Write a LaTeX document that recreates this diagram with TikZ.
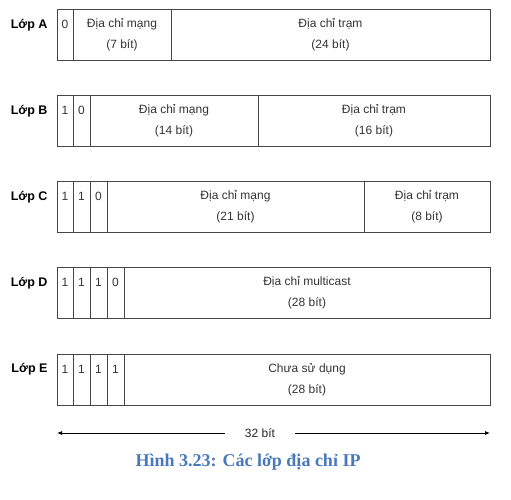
\documentclass[tikz,border=0pt]{standalone}
\usepackage{fontspec}
\setmainfont{Liberation Sans}
\newfontfamily\capfont{Liberation Serif}
\usetikzlibrary{arrows.meta}
\definecolor{capblue}{RGB}{72,120,190}
\definecolor{edge}{RGB}{70,70,70}
\tikzset{
  field/.style={draw=edge, line width=0.9pt, inner sep=0pt, minimum height=51pt, align=center, font=\fontsize{12}{21}\selectfont, text=black!80},
  rowlabel/.style={anchor=east, font=\bfseries\fontsize{12.5}{14}\selectfont},
}
\newcommand{\fld}[5]{% name, x1, x2, ycenter, text
  \pgfmathsetmacro{\fw}{#3-#2}\pgfmathsetmacro{\fx}{(#2+#3)/2}
  \node[field, minimum width=\fw pt] (#1) at (\fx,#4) {#5};}
\begin{document}
\begin{tikzpicture}[x=1pt,y=-1pt]
\useasboundingbox (0,0) rectangle (511,500);
% Row A
\node[rowlabel] (la) at (51,25) {Lớp A};
\fld{a1}{57}{73}{34.5}{0\\{}}
\fld{a2}{73}{171}{34.5}{Địa chỉ mạng\\(7 bít)}
\fld{a3}{171}{490}{34.5}{Địa chỉ trạm\\(24 bít)}
% Row B
\node[rowlabel] (lb) at (51,111) {Lớp B};
\fld{b1}{57}{73}{121}{1\\{}}
\fld{b2}{73}{90}{121}{0\\{}}
\fld{b3}{90}{258}{121}{Địa chỉ mạng\\(14 bít)}
\fld{b4}{258}{490}{121}{Địa chỉ trạm\\(16 bít)}
% Row C
\node[rowlabel] (lc) at (51,197) {Lớp C};
\fld{c1}{57}{73}{207}{1\\{}}
\fld{c2}{73}{90}{207}{1\\{}}
\fld{c3}{90}{107}{207}{0\\{}}
\fld{c4}{107}{364}{207}{Địa chỉ mạng\\(21 bít)}
\fld{c5}{364}{490}{207}{Địa chỉ trạm\\(8 bít)}
% Row D
\node[rowlabel] (ld) at (51,283) {Lớp D};
\fld{d1}{57}{73}{293}{1\\{}}
\fld{d2}{73}{90}{293}{1\\{}}
\fld{d3}{90}{107}{293}{1\\{}}
\fld{d4}{107}{124}{293}{0\\{}}
\fld{d5}{124}{490}{293}{Địa chỉ multicast\\(28 bít)}
% Row E
\node[rowlabel] (le) at (51,369) {Lớp E};
\fld{e1}{57}{73}{379.5}{1\\{}}
\fld{e2}{73}{90}{379.5}{1\\{}}
\fld{e3}{90}{107}{379.5}{1\\{}}
\fld{e4}{107}{124}{379.5}{1\\{}}
\fld{e5}{124}{490}{379.5}{Chưa sử dụng\\(28 bít)}
% 32 bit arrow
\coordinate (al) at (57,433);
\coordinate (ar) at (490,433);
\node[font=\fontsize{12}{14}\selectfont, inner sep=0pt, minimum width=70pt, text=black!85] (bits) at (260,433) {32 bít};
\draw[-{Latex[length=5pt,width=4pt]}, line width=0.8pt] (bits.west) -- (al);
\draw[-{Latex[length=5pt,width=4pt]}, line width=0.8pt] (bits.east) -- (ar);
% caption
\node[font=\capfont\bfseries\fontsize{18}{20}\selectfont, text=capblue] (cap) at (248,462) {Hình 3.23: Các lớp địa chỉ IP};
\end{tikzpicture}
\end{document}
